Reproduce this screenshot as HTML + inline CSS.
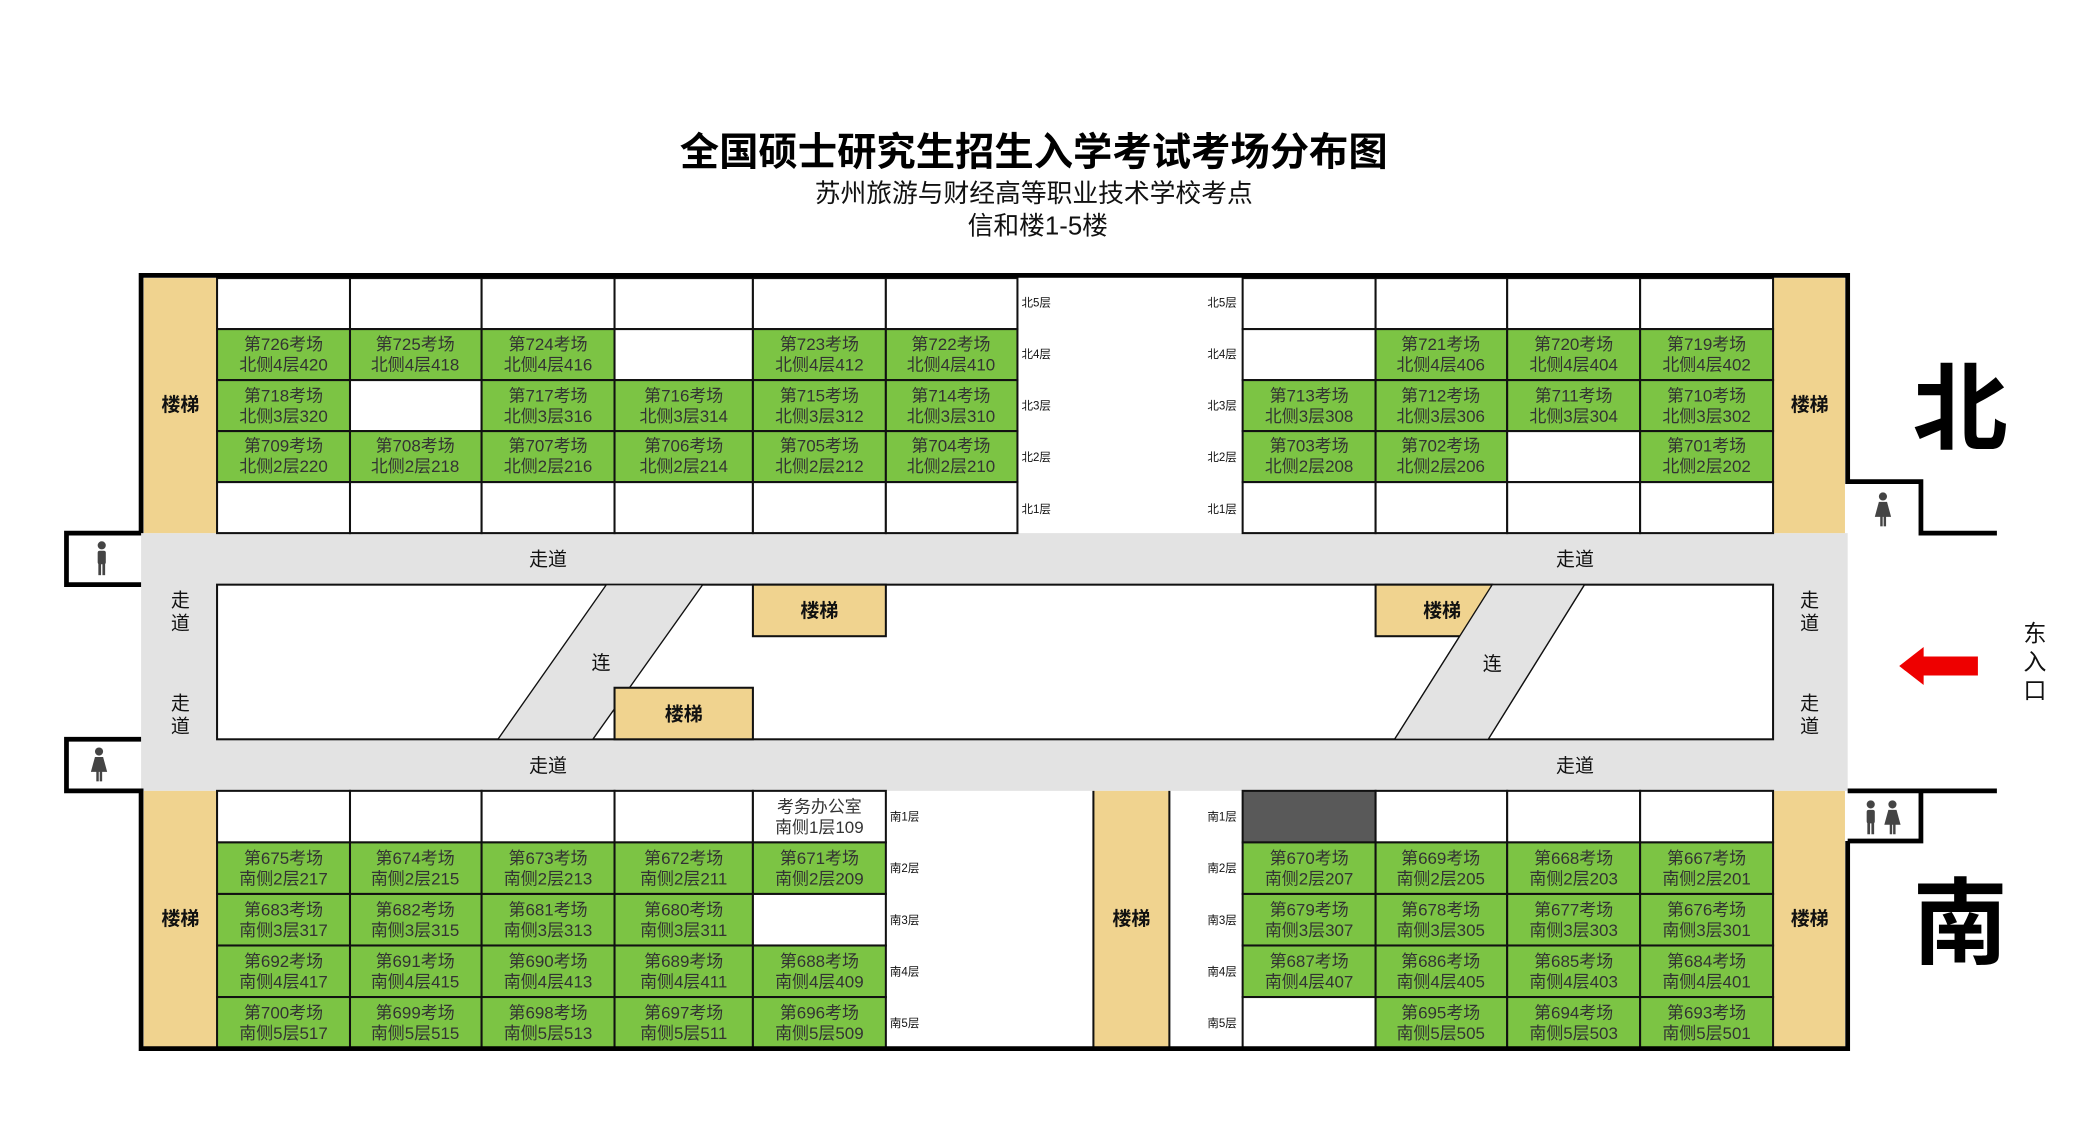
<!DOCTYPE html>
<html><head><meta charset="utf-8"><style>
html,body{margin:0;padding:0;background:#fff;}
svg{display:block;}
text{font-family:"Liberation Sans","Noto Sans CJK SC",sans-serif;}
.c text{font-size:12.5px;fill:#333;text-anchor:middle;}
.g{fill:#7cc444;stroke:#111;stroke-width:1.5}
.w{fill:#fff;stroke:#111;stroke-width:1.5}
.t{fill:#f0d38f}
.lb{font-size:8.5px;fill:#111}
.bd{font-size:14px;font-weight:bold;fill:#111;text-anchor:middle}
.zd{font-size:14px;fill:#111;text-anchor:middle}
.wall{fill:none;stroke:#000;stroke-width:3.5}
</style></head><body>
<svg width="2100" height="1135" viewBox="0 0 1548 836.7" preserveAspectRatio="none" xmlns="http://www.w3.org/2000/svg">
<text x="762" y="122" font-size="29" font-weight="bold" text-anchor="middle" fill="#000">全国硕士研究生招生入学考试考场分布图</text>
<text x="762" y="149" font-size="19" text-anchor="middle" fill="#111">苏州旅游与财经高等职业技术学校考点</text>
<text x="765" y="173" font-size="19" text-anchor="middle" fill="#111">信和楼1-5楼</text>

<!-- corridors -->
<rect x="104" y="393" width="1258" height="190" fill="#e3e3e3"/>
<rect x="160" y="431" width="1147" height="114" fill="#fff" stroke="#111" stroke-width="1.5"/>
<!-- stairs -->
<rect class="t" x="106" y="205" width="54" height="188"/>
<rect class="t" x="1307" y="205" width="53" height="188"/>
<rect class="t" x="106" y="583" width="54" height="190"/>
<rect class="t" x="1307" y="583" width="53" height="190"/>
<rect class="t" x="806" y="583" width="56" height="190"/>
<text class="bd" x="133" y="303">楼梯</text>
<text class="bd" x="1334" y="303">楼梯</text>
<text class="bd" x="133" y="682">楼梯</text>
<text class="bd" x="1334" y="682">楼梯</text>
<text class="bd" x="834" y="682">楼梯</text>
<line x1="806" y1="583" x2="806" y2="773" stroke="#111" stroke-width="1.5"/>
<line x1="862" y1="583" x2="862" y2="773" stroke="#111" stroke-width="1.5"/>

<!-- middle area items -->
<polygon points="447,431 518,431 437,545 367,545" fill="#e3e3e3" stroke="#111" stroke-width="1"/>
<polygon points="1100,431 1168,431 1097,545 1028,545" fill="#e3e3e3" stroke="#111" stroke-width="1"/>
<rect class="t" x="555" y="431" width="98" height="38" stroke="#111" stroke-width="1.5"/>
<rect class="t" x="453" y="507" width="102" height="38" stroke="#111" stroke-width="1.5"/>
<rect class="t" x="1014" y="431" width="86" height="38" stroke="#111" stroke-width="1.5"/>
<polygon points="1100,431 1168,431 1097,545 1028,545" fill="#e3e3e3" stroke="#111" stroke-width="1"/>
<text class="bd" x="604" y="455">楼梯</text>
<text class="bd" x="504" y="531">楼梯</text>
<text class="bd" x="1063" y="455">楼梯</text>
<text class="zd" x="443" y="493">连</text>
<text class="zd" x="1100" y="494">连</text>
<text class="zd" x="404" y="417">走道</text>
<text class="zd" x="404" y="569">走道</text>
<text class="zd" x="1161" y="417">走道</text>
<text class="zd" x="1161" y="569">走道</text>
<text class="zd" x="133" y="447">走</text><text class="zd" x="133" y="464">道</text>
<text class="zd" x="133" y="523">走</text><text class="zd" x="133" y="540">道</text>
<text class="zd" x="1334" y="447">走</text><text class="zd" x="1334" y="464">道</text>
<text class="zd" x="1334" y="523">走</text><text class="zd" x="1334" y="540">道</text>

<!-- north cells -->
<g class="c">
<rect class="w" x="160" y="205" width="98" height="37.6"/><rect class="w" x="258" y="205" width="97" height="37.6"/><rect class="w" x="355" y="205" width="98" height="37.6"/><rect class="w" x="453" y="205" width="102" height="37.6"/><rect class="w" x="555" y="205" width="98" height="37.6"/><rect class="w" x="653" y="205" width="97" height="37.6"/>
<rect class="g" x="160" y="242.6" width="98" height="37.6"/><text x="209" y="258">第726考场</text><text x="209" y="273">北侧4层420</text>
<rect class="g" x="258" y="242.6" width="97" height="37.6"/><text x="306" y="258">第725考场</text><text x="306" y="273">北侧4层418</text>
<rect class="g" x="355" y="242.6" width="98" height="37.6"/><text x="404" y="258">第724考场</text><text x="404" y="273">北侧4层416</text>
<rect class="w" x="453" y="242.6" width="102" height="37.6"/>
<rect class="g" x="555" y="242.6" width="98" height="37.6"/><text x="604" y="258">第723考场</text><text x="604" y="273">北侧4层412</text>
<rect class="g" x="653" y="242.6" width="97" height="37.6"/><text x="701" y="258">第722考场</text><text x="701" y="273">北侧4层410</text>
<rect class="g" x="160" y="280.2" width="98" height="37.6"/><text x="209" y="296">第718考场</text><text x="209" y="311">北侧3层320</text>
<rect class="w" x="258" y="280.2" width="97" height="37.6"/>
<rect class="g" x="355" y="280.2" width="98" height="37.6"/><text x="404" y="296">第717考场</text><text x="404" y="311">北侧3层316</text>
<rect class="g" x="453" y="280.2" width="102" height="37.6"/><text x="504" y="296">第716考场</text><text x="504" y="311">北侧3层314</text>
<rect class="g" x="555" y="280.2" width="98" height="37.6"/><text x="604" y="296">第715考场</text><text x="604" y="311">北侧3层312</text>
<rect class="g" x="653" y="280.2" width="97" height="37.6"/><text x="701" y="296">第714考场</text><text x="701" y="311">北侧3层310</text>
<rect class="g" x="160" y="317.8" width="98" height="37.6"/><text x="209" y="333">第709考场</text><text x="209" y="348">北侧2层220</text>
<rect class="g" x="258" y="317.8" width="97" height="37.6"/><text x="306" y="333">第708考场</text><text x="306" y="348">北侧2层218</text>
<rect class="g" x="355" y="317.8" width="98" height="37.6"/><text x="404" y="333">第707考场</text><text x="404" y="348">北侧2层216</text>
<rect class="g" x="453" y="317.8" width="102" height="37.6"/><text x="504" y="333">第706考场</text><text x="504" y="348">北侧2层214</text>
<rect class="g" x="555" y="317.8" width="98" height="37.6"/><text x="604" y="333">第705考场</text><text x="604" y="348">北侧2层212</text>
<rect class="g" x="653" y="317.8" width="97" height="37.6"/><text x="701" y="333">第704考场</text><text x="701" y="348">北侧2层210</text>
<rect class="w" x="160" y="355.4" width="98" height="37.6"/><rect class="w" x="258" y="355.4" width="97" height="37.6"/><rect class="w" x="355" y="355.4" width="98" height="37.6"/><rect class="w" x="453" y="355.4" width="102" height="37.6"/><rect class="w" x="555" y="355.4" width="98" height="37.6"/><rect class="w" x="653" y="355.4" width="97" height="37.6"/>

<rect class="w" x="916" y="205" width="98" height="37.6"/><rect class="w" x="1014" y="205" width="97" height="37.6"/><rect class="w" x="1111" y="205" width="98" height="37.6"/><rect class="w" x="1209" y="205" width="98" height="37.6"/>
<rect class="w" x="916" y="242.6" width="98" height="37.6"/>
<rect class="g" x="1014" y="242.6" width="97" height="37.6"/><text x="1062" y="258">第721考场</text><text x="1062" y="273">北侧4层406</text>
<rect class="g" x="1111" y="242.6" width="98" height="37.6"/><text x="1160" y="258">第720考场</text><text x="1160" y="273">北侧4层404</text>
<rect class="g" x="1209" y="242.6" width="98" height="37.6"/><text x="1258" y="258">第719考场</text><text x="1258" y="273">北侧4层402</text>
<rect class="g" x="916" y="280.2" width="98" height="37.6"/><text x="965" y="296">第713考场</text><text x="965" y="311">北侧3层308</text>
<rect class="g" x="1014" y="280.2" width="97" height="37.6"/><text x="1062" y="296">第712考场</text><text x="1062" y="311">北侧3层306</text>
<rect class="g" x="1111" y="280.2" width="98" height="37.6"/><text x="1160" y="296">第711考场</text><text x="1160" y="311">北侧3层304</text>
<rect class="g" x="1209" y="280.2" width="98" height="37.6"/><text x="1258" y="296">第710考场</text><text x="1258" y="311">北侧3层302</text>
<rect class="g" x="916" y="317.8" width="98" height="37.6"/><text x="965" y="333">第703考场</text><text x="965" y="348">北侧2层208</text>
<rect class="g" x="1014" y="317.8" width="97" height="37.6"/><text x="1062" y="333">第702考场</text><text x="1062" y="348">北侧2层206</text>
<rect class="w" x="1111" y="317.8" width="98" height="37.6"/>
<rect class="g" x="1209" y="317.8" width="98" height="37.6"/><text x="1258" y="333">第701考场</text><text x="1258" y="348">北侧2层202</text>
<rect class="w" x="916" y="355.4" width="98" height="37.6"/><rect class="w" x="1014" y="355.4" width="97" height="37.6"/><rect class="w" x="1111" y="355.4" width="98" height="37.6"/><rect class="w" x="1209" y="355.4" width="98" height="37.6"/>

<!-- south cells -->
<rect class="w" x="160" y="583" width="98" height="38"/><rect class="w" x="258" y="583" width="97" height="38"/><rect class="w" x="355" y="583" width="98" height="38"/><rect class="w" x="453" y="583" width="102" height="38"/>
<rect class="w" x="555" y="583" width="98" height="38"/><text x="604" y="599">考务办公室</text><text x="604" y="614">南侧1层109</text>
<rect class="g" x="160" y="621" width="98" height="38"/><text x="209" y="637">第675考场</text><text x="209" y="652">南侧2层217</text>
<rect class="g" x="258" y="621" width="97" height="38"/><text x="306" y="637">第674考场</text><text x="306" y="652">南侧2层215</text>
<rect class="g" x="355" y="621" width="98" height="38"/><text x="404" y="637">第673考场</text><text x="404" y="652">南侧2层213</text>
<rect class="g" x="453" y="621" width="102" height="38"/><text x="504" y="637">第672考场</text><text x="504" y="652">南侧2层211</text>
<rect class="g" x="555" y="621" width="98" height="38"/><text x="604" y="637">第671考场</text><text x="604" y="652">南侧2层209</text>
<rect class="g" x="160" y="659" width="98" height="38"/><text x="209" y="675">第683考场</text><text x="209" y="690">南侧3层317</text>
<rect class="g" x="258" y="659" width="97" height="38"/><text x="306" y="675">第682考场</text><text x="306" y="690">南侧3层315</text>
<rect class="g" x="355" y="659" width="98" height="38"/><text x="404" y="675">第681考场</text><text x="404" y="690">南侧3层313</text>
<rect class="g" x="453" y="659" width="102" height="38"/><text x="504" y="675">第680考场</text><text x="504" y="690">南侧3层311</text>
<rect class="w" x="555" y="659" width="98" height="38"/>
<rect class="g" x="160" y="697" width="98" height="38"/><text x="209" y="713">第692考场</text><text x="209" y="728">南侧4层417</text>
<rect class="g" x="258" y="697" width="97" height="38"/><text x="306" y="713">第691考场</text><text x="306" y="728">南侧4层415</text>
<rect class="g" x="355" y="697" width="98" height="38"/><text x="404" y="713">第690考场</text><text x="404" y="728">南侧4层413</text>
<rect class="g" x="453" y="697" width="102" height="38"/><text x="504" y="713">第689考场</text><text x="504" y="728">南侧4层411</text>
<rect class="g" x="555" y="697" width="98" height="38"/><text x="604" y="713">第688考场</text><text x="604" y="728">南侧4层409</text>
<rect class="g" x="160" y="735" width="98" height="38"/><text x="209" y="751">第700考场</text><text x="209" y="766">南侧5层517</text>
<rect class="g" x="258" y="735" width="97" height="38"/><text x="306" y="751">第699考场</text><text x="306" y="766">南侧5层515</text>
<rect class="g" x="355" y="735" width="98" height="38"/><text x="404" y="751">第698考场</text><text x="404" y="766">南侧5层513</text>
<rect class="g" x="453" y="735" width="102" height="38"/><text x="504" y="751">第697考场</text><text x="504" y="766">南侧5层511</text>
<rect class="g" x="555" y="735" width="98" height="38"/><text x="604" y="751">第696考场</text><text x="604" y="766">南侧5层509</text>

<rect x="916" y="583" width="98" height="38" fill="#595959" stroke="#111" stroke-width="1.5"/>
<rect class="w" x="1014" y="583" width="97" height="38"/><rect class="w" x="1111" y="583" width="98" height="38"/><rect class="w" x="1209" y="583" width="98" height="38"/>
<rect class="g" x="916" y="621" width="98" height="38"/><text x="965" y="637">第670考场</text><text x="965" y="652">南侧2层207</text>
<rect class="g" x="1014" y="621" width="97" height="38"/><text x="1062" y="637">第669考场</text><text x="1062" y="652">南侧2层205</text>
<rect class="g" x="1111" y="621" width="98" height="38"/><text x="1160" y="637">第668考场</text><text x="1160" y="652">南侧2层203</text>
<rect class="g" x="1209" y="621" width="98" height="38"/><text x="1258" y="637">第667考场</text><text x="1258" y="652">南侧2层201</text>
<rect class="g" x="916" y="659" width="98" height="38"/><text x="965" y="675">第679考场</text><text x="965" y="690">南侧3层307</text>
<rect class="g" x="1014" y="659" width="97" height="38"/><text x="1062" y="675">第678考场</text><text x="1062" y="690">南侧3层305</text>
<rect class="g" x="1111" y="659" width="98" height="38"/><text x="1160" y="675">第677考场</text><text x="1160" y="690">南侧3层303</text>
<rect class="g" x="1209" y="659" width="98" height="38"/><text x="1258" y="675">第676考场</text><text x="1258" y="690">南侧3层301</text>
<rect class="g" x="916" y="697" width="98" height="38"/><text x="965" y="713">第687考场</text><text x="965" y="728">南侧4层407</text>
<rect class="g" x="1014" y="697" width="97" height="38"/><text x="1062" y="713">第686考场</text><text x="1062" y="728">南侧4层405</text>
<rect class="g" x="1111" y="697" width="98" height="38"/><text x="1160" y="713">第685考场</text><text x="1160" y="728">南侧4层403</text>
<rect class="g" x="1209" y="697" width="98" height="38"/><text x="1258" y="713">第684考场</text><text x="1258" y="728">南侧4层401</text>
<rect class="w" x="916" y="735" width="98" height="38"/>
<rect class="g" x="1014" y="735" width="97" height="38"/><text x="1062" y="751">第695考场</text><text x="1062" y="766">南侧5层505</text>
<rect class="g" x="1111" y="735" width="98" height="38"/><text x="1160" y="751">第694考场</text><text x="1160" y="766">南侧5层503</text>
<rect class="g" x="1209" y="735" width="98" height="38"/><text x="1258" y="751">第693考场</text><text x="1258" y="766">南侧5层501</text>
</g>

<!-- floor labels -->
<g class="lb">
<text x="753" y="226">北5层</text><text x="753" y="264">北4层</text><text x="753" y="302">北3层</text><text x="753" y="340">北2层</text><text x="753" y="378">北1层</text>
<text x="890" y="226">北5层</text><text x="890" y="264">北4层</text><text x="890" y="302">北3层</text><text x="890" y="340">北2层</text><text x="890" y="378">北1层</text>
<text x="656" y="605">南1层</text><text x="656" y="643">南2层</text><text x="656" y="681">南3层</text><text x="656" y="719">南4层</text><text x="656" y="757">南5层</text>
<text x="890" y="605">南1层</text><text x="890" y="643">南2层</text><text x="890" y="681">南3层</text><text x="890" y="719">南4层</text><text x="890" y="757">南5层</text>
</g>

<!-- walls -->
<polyline class="wall" points="104,393 104,203 1362,203 1362,355 1416,355 1416,393 1472,393"/>
<polyline class="wall" points="104,393 49,393 49,431 104,431"/>
<polyline class="wall" points="104,545 49,545 49,583 104,583 104,773 1362,773 1362,620"/>
<polyline class="wall" points="1362,583 1472,583"/>
<polyline class="wall" points="1362,620 1416,620 1416,583"/>

<!-- restroom icons -->
<g fill="#444">
<circle cx="75" cy="402" r="3"/><rect x="72" y="406" width="6" height="10" rx="1.5"/><rect x="72.5" y="415" width="2" height="9"/><rect x="75.5" y="415" width="2" height="9"/>
<circle cx="73" cy="554" r="3"/><polygon points="70,558 76,558 79,569 67,569"/><rect x="71" y="568" width="1.8" height="8"/><rect x="73.5" y="568" width="1.8" height="8"/>
<circle cx="1388" cy="366" r="3"/><polygon points="1385,370 1391,370 1394,381 1382,381"/><rect x="1386" y="380" width="1.8" height="8"/><rect x="1388.5" y="380" width="1.8" height="8"/>
<circle cx="1379" cy="593" r="3"/><rect x="1376" y="597" width="6" height="10" rx="1.5"/><rect x="1376.5" y="606" width="2" height="9"/><rect x="1379.5" y="606" width="2" height="9"/>
<circle cx="1395" cy="593" r="3"/><polygon points="1392,597 1398,597 1401,608 1389,608"/><rect x="1393" y="607" width="1.8" height="8"/><rect x="1395.5" y="607" width="1.8" height="8"/>
</g>

<text x="1445" y="326" font-size="70" font-weight="bold" text-anchor="middle" fill="#000">北</text>
<text x="1445" y="705" font-size="70" font-weight="bold" text-anchor="middle" fill="#000">南</text>
<polygon points="1400,491 1418,477 1418,484 1458,484 1458,498 1418,498 1418,505" fill="#ee0000"/>
<text x="1500" y="473" font-size="17" text-anchor="middle" fill="#111">东</text>
<text x="1500" y="494" font-size="17" text-anchor="middle" fill="#111">入</text>
<text x="1500" y="515" font-size="17" text-anchor="middle" fill="#111">口</text>
</svg>
</body></html>
